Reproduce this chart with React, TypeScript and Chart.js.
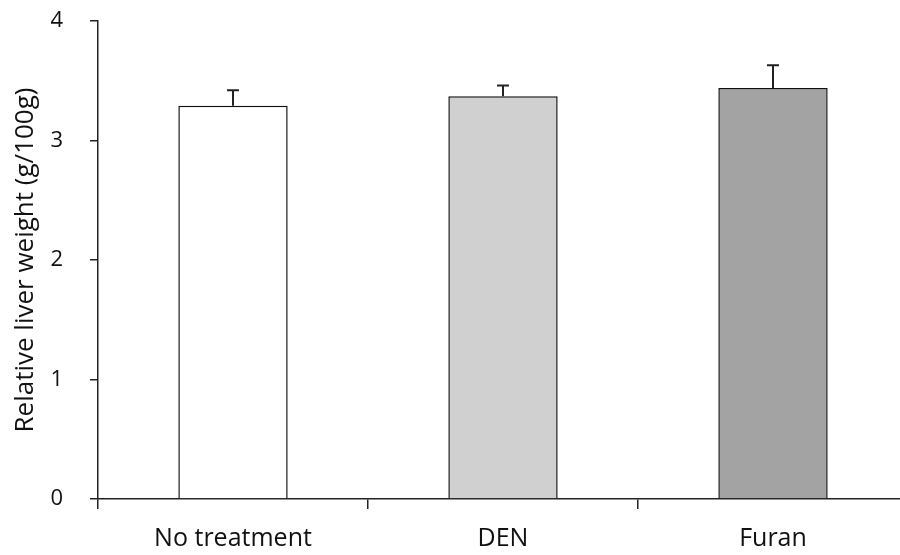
import React, { useEffect, useRef } from "react";
import { Chart, registerables } from "chart.js";

Chart.register(...registerables);

const categories = ["No treatment", "DEN", "Furan"];
const means = [3.29, 3.37, 3.44];
const errorsUp = [0.13, 0.09, 0.19];
const yTicks = [0, 1, 2, 3, 4];
const barColors = ["#ffffff", "#d0d0d0", "#a3a3a3"];
const yTitle = "Relative liver weight (g/100g)";

const errorBarPlugin = {
  id: "errorBars",
  afterDatasetsDraw(chart: any) {
    const { ctx, scales } = chart;
    const meta = chart.getDatasetMeta(0);
    ctx.save();
    ctx.strokeStyle = "#222";
    ctx.lineWidth = 2;
    meta.data.forEach((bar: any, i: number) => {
      const x = bar.x;
      const yTop = scales.y.getPixelForValue(means[i] + errorsUp[i]);
      const yBase = scales.y.getPixelForValue(means[i]);
      ctx.beginPath();
      ctx.moveTo(x, yBase);
      ctx.lineTo(x, yTop);
      ctx.moveTo(x - 6, yTop);
      ctx.lineTo(x + 6, yTop);
      ctx.stroke();
    });
    ctx.restore();
  },
};

export default function App() {
  const ref = useRef<HTMLCanvasElement>(null);
  useEffect(() => {
    document.body.style.margin = "0";
    document.body.style.overflow = "hidden";
    const chart = new Chart(ref.current!, {
      type: "bar",
      data: {
        labels: categories,
        datasets: [
          {
            data: means,
            backgroundColor: barColors,
            borderColor: "#111",
            borderWidth: 1.5,
            barPercentage: 0.405,
            categoryPercentage: 1,
          },
        ],
      },
      options: {
        animation: false,
        responsive: false,
        maintainAspectRatio: false,
        layout: { padding: { top: 21, right: 2, bottom: 0, left: 0 } },
        plugins: { legend: { display: false }, tooltip: { enabled: false } },
        scales: {
          x: {
            offset: true,
            afterFit: (s: any) => {
              s.height = 56;
            },
            grid: {
              drawOnChartArea: false,
              drawTicks: true,
              tickLength: 10,
              color: "#222",
              lineWidth: 1.5,
              offset: true,
            },
            border: { display: true, color: "#222", width: 1.5 },
            ticks: {
              color: "#111",
              padding: 15,
              font: { family: "Open Sans", size: 25 },
            },
          },
          y: {
            min: 0,
            max: 4,
            afterFit: (s: any) => {
              s.width = 98;
              s.paddingTop = 0;
              s.paddingBottom = 0;
            },
            afterBuildTicks: (s: any) => {
              s.ticks = yTicks.map((v) => ({ value: v }));
            },
            grid: {
              drawOnChartArea: false,
              drawTicks: true,
              tickLength: 8,
              color: "#222",
              lineWidth: 1.5,
            },
            border: { display: true, color: "#222", width: 1.5 },
            ticks: {
              color: "#111",
              padding: 27,
              font: { family: "Open Sans", size: 22 },
            },
            title: {
              display: true,
              text: yTitle,
              color: "#111",
              padding: { top: 10, bottom: 0 },
              font: { family: "Open Sans", size: 26 },
            },
          },
        },
      },
      plugins: [errorBarPlugin],
    });
    return () => chart.destroy();
  }, []);
  return (
    <div style={{ position: "fixed", left: 0, top: 0, width: 910, height: 555 }}>
      <canvas ref={ref} width={910} height={555} style={{ width: 910, height: 555 }} />
    </div>
  );
}
